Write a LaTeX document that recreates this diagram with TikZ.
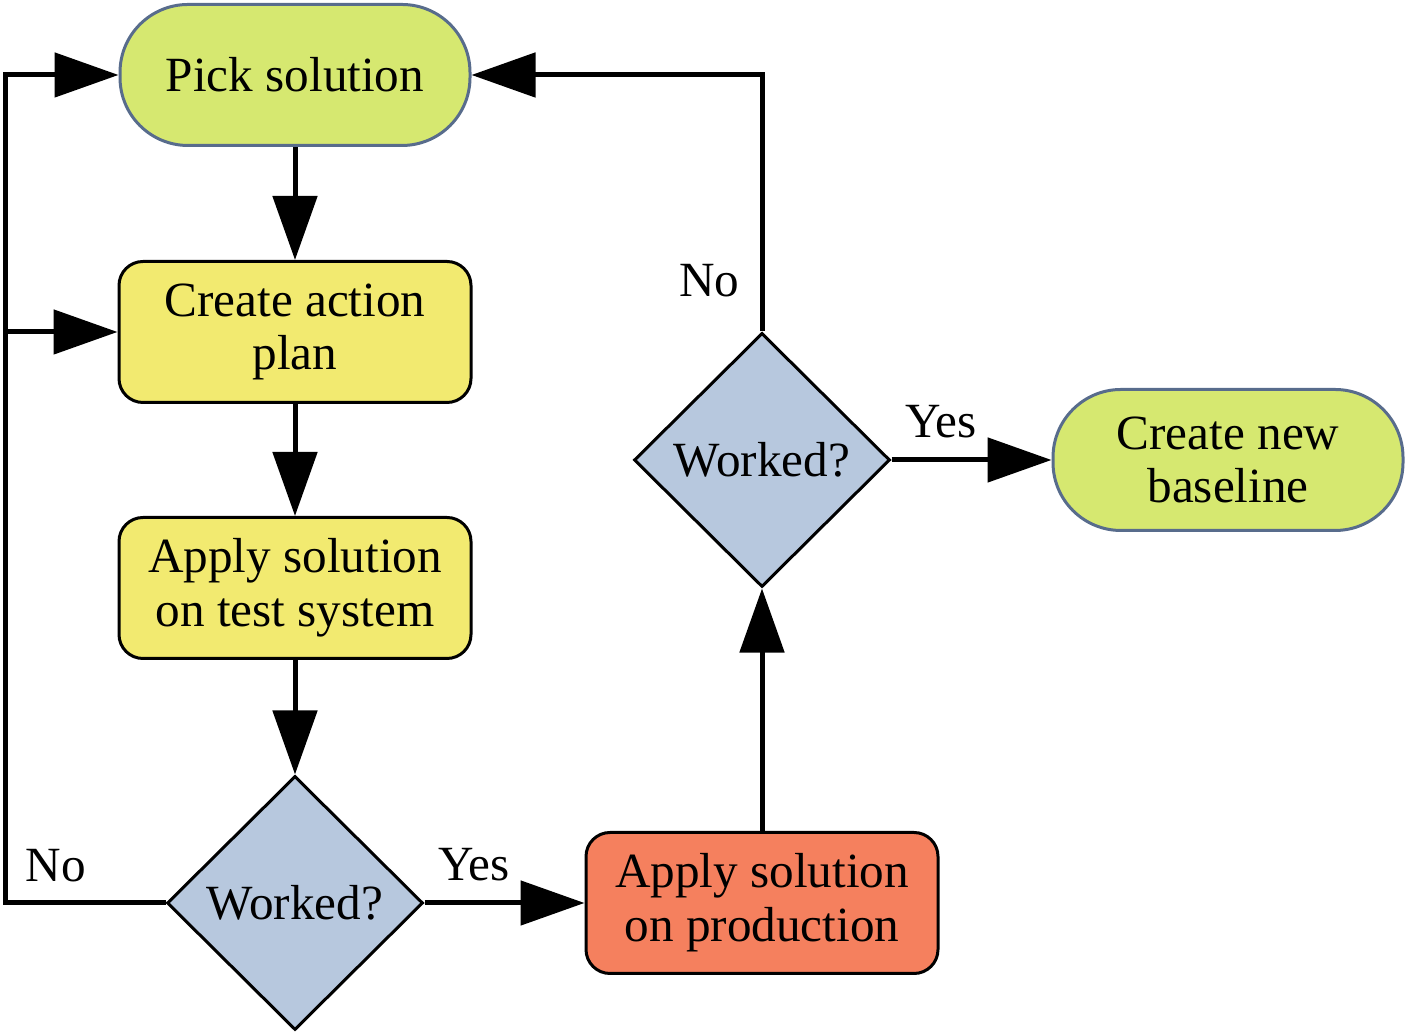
\documentclass[tikz,border=0pt]{standalone}
\usepackage{fontspec}
\setmainfont{Liberation Serif}
\usetikzlibrary{shapes.geometric,arrows.meta}
\definecolor{limefill}{RGB}{214,232,112}
\definecolor{yelfill}{RGB}{242,234,112}
\definecolor{diafill}{RGB}{183,200,222}
\definecolor{prodfill}{RGB}{245,128,94}
\definecolor{stadline}{RGB}{88,108,140}
\tikzset{
  every node/.style={font=\fontsize{14}{15.3}\selectfont},
  stad_nd/.style={draw=stadline, line width=0.03cm, fill=limefill, rounded corners=0.68cm,
    minimum width=3.5cm, minimum height=1.41cm, align=center, inner sep=0pt},
  box_nd/.style={draw, line width=0.03cm, fill=yelfill, rounded corners=0.24cm,
    minimum width=3.52cm, minimum height=1.41cm, align=center, inner sep=0pt},
  dia_nd/.style={draw, line width=0.03cm, fill=diafill, shape=diamond, aspect=1,
    minimum width=2.56cm, minimum height=2.54cm, inner sep=0pt},
  conn/.style={line width=0.05cm, -{Triangle[length=0.64cm,width=0.44cm]}},
  lbl/.style={inner sep=0.2cm}
}

\begin{document}
\begin{tikzpicture}
\useasboundingbox (0,0) rectangle (14.09,10.34);
\node[stad_nd] (pick) at (2.95,9.59) {Pick solution};
\node[box_nd] (plan) at (2.95,7.02) {Create action\\plan};
\node[box_nd] (test) at (2.95,4.46) {Apply solution\\on test system};
\node[dia_nd] (wk_lo) at (2.95,1.31) {Worked?};
\node[box_nd, fill=prodfill] (prod) at (7.62,1.31) {Apply solution\\on production};
\node[dia_nd] (wk_hi) at (7.62,5.74) {Worked?};
\node[stad_nd] (base) at (12.28,5.74) {Create new\\baseline};
\coordinate (lp_bot) at (0.05,1.31);
\coordinate (lp_top) at (0.05,9.59);
\draw[conn] (pick) -- (plan);
\draw[conn] (plan) -- (test);
\draw[conn] (test) -- (wk_lo);
\draw[conn] (wk_lo) -- node[lbl, above, pos=0.31] {Yes} (prod);
\draw[conn] (prod) -- (wk_hi);
\draw[conn] (wk_hi) -- node[lbl, above, pos=0.31] {Yes} (base);
\draw[conn] (wk_hi.north) |- node[lbl, left, pos=0.1] {No} (pick.east);
\draw[conn] (wk_lo.west) -- (lp_bot) -- (lp_top) -- (pick.west);
\draw[conn] (lp_bot |- plan.west) -- (plan.west);
\node[lbl, above right] (no_lo) at (lp_bot) {No};
\end{tikzpicture}
\end{document}
